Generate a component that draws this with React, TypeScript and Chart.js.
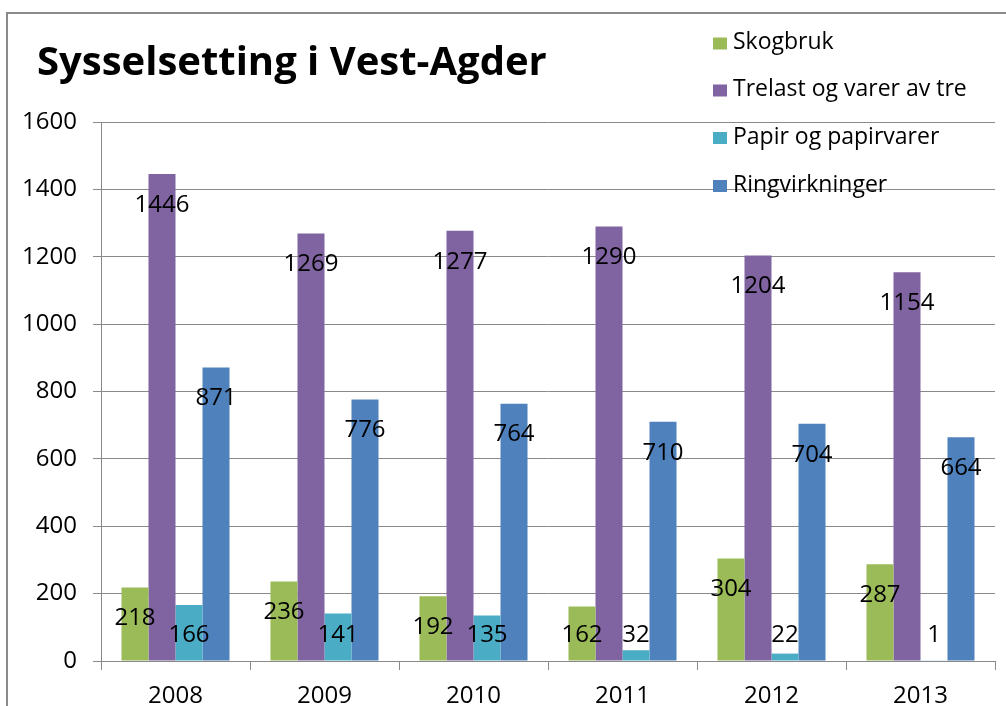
import React, { useEffect, useRef } from "react";
import { Chart, registerables } from "chart.js";

Chart.register(...registerables);

const chartTitle = "Sysselsetting i Vest-Agder";
const categories = ["2008", "2009", "2010", "2011", "2012", "2013"];
const skogbruk = [218, 236, 192, 162, 304, 287];
const trelast = [1446, 1269, 1277, 1290, 1204, 1154];
const papir = [166, 141, 135, 32, 22, 1];
const ringvirkninger = [871, 776, 764, 710, 704, 664];
const seriesNames = ["Skogbruk", "Trelast og varer av tre", "Papir og papirvarer", "Ringvirkninger"];
const seriesColors = ["#9BBB59", "#8064A2", "#4BACC6", "#4F81BD"];
const yMin = 0;
const yMax = 1600;
const yStep = 200;

const FONT = "'Open Sans', 'Noto Sans', sans-serif";
const GRID = "#898989";

const decorPlugin = {
  id: "decor",
  beforeDraw(chart: any) {
    const ctx = chart.ctx;
    ctx.save();
    ctx.fillStyle = "#ffffff";
    ctx.fillRect(0, 0, chart.width, chart.height);
    ctx.strokeStyle = "#8a8a8a";
    ctx.lineWidth = 2;
    ctx.beginPath();
    ctx.moveTo(7, chart.height);
    ctx.lineTo(7, 13);
    ctx.lineTo(chart.width, 13);
    ctx.stroke();
    ctx.restore();
  },
  afterDatasetsDraw(chart: any) {
    const ctx = chart.ctx;
    const area = chart.chartArea;
    ctx.save();
    ctx.font = `24px ${FONT}`;
    ctx.fillStyle = "#000000";
    ctx.textAlign = "center";
    ctx.textBaseline = "middle";
    chart.data.datasets.forEach((ds: any, i: number) => {
      const meta = chart.getDatasetMeta(i);
      meta.data.forEach((bar: any, j: number) => {
        const y = Math.min(bar.y + 31, area.bottom - 25.5);
        ctx.fillText(String(ds.data[j]), bar.x, y);
      });
    });
    ctx.restore();
  },
  afterDraw(chart: any) {
    const ctx = chart.ctx;
    ctx.save();
    // title
    ctx.font = `bold 40px ${FONT}`;
    ctx.fillStyle = "#000000";
    ctx.textAlign = "left";
    ctx.textBaseline = "alphabetic";
    ctx.fillText(chartTitle, 37, 75);
    // legend
    const rows = [43.5, 90.5, 138, 186];
    ctx.font = `23px ${FONT}`;
    ctx.textBaseline = "middle";
    seriesNames.forEach((name, i) => {
      ctx.fillStyle = seriesColors[i];
      ctx.fillRect(713, rows[i] - 6, 14, 12);
      ctx.fillStyle = "#000000";
      ctx.fillText(name, 733, rows[i] - 1);
    });
    ctx.restore();
  },
};

export default function App() {
  const ref = useRef<HTMLCanvasElement | null>(null);
  useEffect(() => {
    if (!ref.current) return;
    const datasets = [skogbruk, trelast, papir, ringvirkninger].map((d, i) => ({
      label: seriesNames[i],
      data: d,
      backgroundColor: seriesColors[i],
      borderWidth: 0,
      categoryPercentage: 0.725,
      barPercentage: 1,
    }));
    const chart = new Chart(ref.current, {
      type: "bar",
      data: { labels: categories, datasets },
      options: {
        responsive: false,
        animation: false,
        layout: { padding: { left: 0, top: 122, right: 11, bottom: 0 } },
        plugins: {
          legend: { display: false },
          title: { display: false },
          tooltip: { enabled: false },
        },
        scales: {
          x: {
            grid: {
              display: true,
              drawOnChartArea: false,
              drawTicks: true,
              tickLength: 9,
              color: GRID,
              offset: true,
            },
            border: { display: true, color: GRID },
            ticks: {
              color: "#000000",
              font: { family: FONT, size: 24 },
              padding: 12,
              maxRotation: 0,
            },
            afterFit(scale: any) {
              scale.height = 45;
            },
          },
          y: {
            min: yMin,
            max: yMax,
            grid: {
              display: true,
              drawOnChartArea: true,
              drawTicks: true,
              tickLength: 8,
              color: GRID,
            },
            border: { display: true, color: GRID },
            ticks: {
              stepSize: yStep,
              color: "#000000",
              font: { family: FONT, size: 24 },
              padding: 16,
              callback: (v: any) => String(v),
            },
            afterFit(scale: any) {
              scale.width = 101;
            },
          },
        },
      },
      plugins: [decorPlugin],
    });
    return () => chart.destroy();
  }, []);
  return (
    <div style={{ position: "fixed", left: 0, top: 0, width: 1006, height: 706, background: "#fff" }}>
      <canvas ref={ref} width={1006} height={706} style={{ display: "block" }} />
    </div>
  );
}
